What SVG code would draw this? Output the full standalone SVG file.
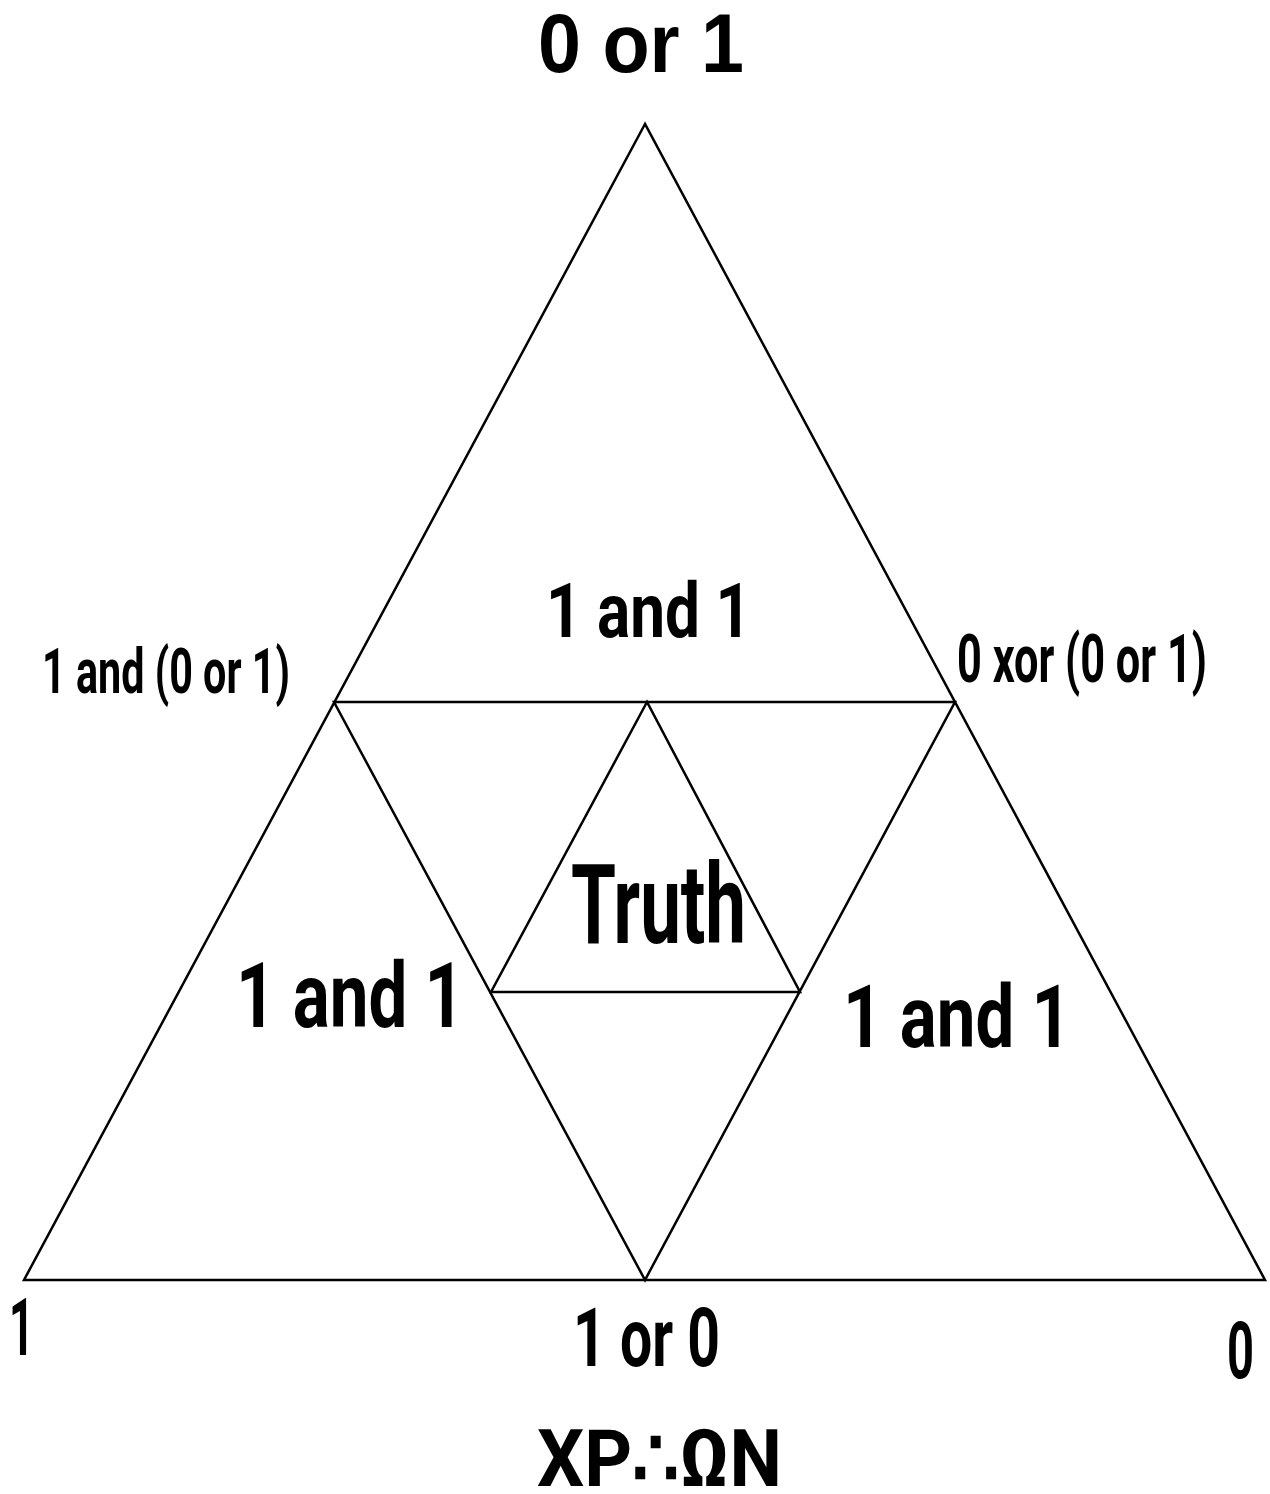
<svg xmlns="http://www.w3.org/2000/svg" width="1270" height="1494" viewBox="0 0 1270 1494">
<style>
.t{font-family:Roboto,"Liberation Sans",sans-serif;font-weight:bold;fill:#000}
.h{font-family:"Liberation Sans",Arial,sans-serif;font-weight:bold;fill:#000}
.e{stroke:#000;stroke-width:2.5;fill:none;stroke-linejoin:miter}
</style>
<rect width="1270" height="1494" fill="#fff"/>
<g id="connectors">
<polygon class="e" points="645,124 24,1280 1265,1280"/>
<polygon class="e" points="334,702 955,702 645,1280"/>
<polygon class="e" points="647,702 491,992 800,992"/>
</g>
<g id="top-label"><text class="h" x="538" y="72" font-size="83" textLength="206" lengthAdjust="spacingAndGlyphs">0 or 1</text></g>
<g id="top-triangle"><text class="t" x="546" y="637" font-size="76" textLength="205" lengthAdjust="spacingAndGlyphs">1 and 1</text></g>
<g id="left-mid-label"><text class="t" x="42" y="693" font-size="63" textLength="248" lengthAdjust="spacingAndGlyphs">1 and (0 or 1)</text></g>
<g id="right-mid-label"><text class="t" x="957" y="682" font-size="67" textLength="250" lengthAdjust="spacingAndGlyphs">0 xor (0 or 1)</text></g>
<g id="truth"><text class="t" x="571" y="943" font-size="112" textLength="175" lengthAdjust="spacingAndGlyphs">Truth</text></g>
<g id="left-triangle"><text class="t" x="236" y="1027" font-size="91" textLength="228" lengthAdjust="spacingAndGlyphs">1 and 1</text></g>
<g id="right-triangle"><text class="t" x="843" y="1047" font-size="87" textLength="228" lengthAdjust="spacingAndGlyphs">1 and 1</text></g>
<g id="bottom-left-label"><text class="t" x="9" y="1355" font-size="80" textLength="25" lengthAdjust="spacingAndGlyphs">1</text></g>
<g id="bottom-mid-label"><text class="t" x="573" y="1366" font-size="82" textLength="147" lengthAdjust="spacingAndGlyphs">1 or 0</text></g>
<g id="bottom-right-label"><text class="t" x="1227" y="1378" font-size="80" textLength="27" lengthAdjust="spacingAndGlyphs">0</text></g>
<g id="title"><text class="t" x="537" y="1486" font-size="80" textLength="245" lengthAdjust="spacingAndGlyphs">XP∴ΩN</text></g>
</svg>
